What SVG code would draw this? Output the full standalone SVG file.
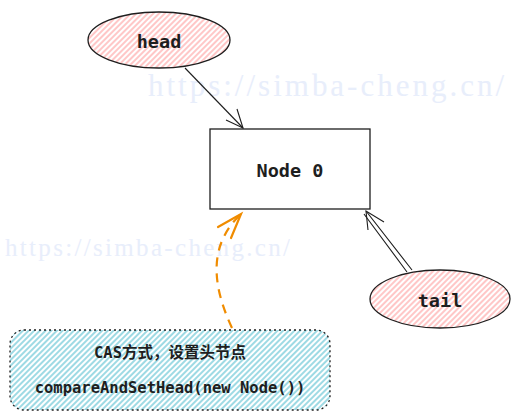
<svg xmlns="http://www.w3.org/2000/svg" width="520" height="420" viewBox="0 0 520 420">
<style>
.lbl{font-family:"DejaVu Sans Mono","Liberation Mono",monospace;font-size:18.5px;font-weight:bold;fill:#1e1e1e;text-anchor:middle;dominant-baseline:central}
.small{font-family:"DejaVu Sans Mono","Noto Sans CJK SC",monospace;font-size:15.5px;font-weight:bold;fill:#1e1e1e;text-anchor:middle;dominant-baseline:central}
.edge{fill:none;stroke:#1e1e1e;stroke-width:1.1}
.wm{font-family:"Liberation Serif",serif;fill:#e3eafb;opacity:0.8}
</style>
<defs>
<pattern id="pink" width="4" height="4" patternUnits="userSpaceOnUse" patternTransform="rotate(-45)">
<rect width="4" height="4" fill="#fff"/><line x1="0" y1="2" x2="4" y2="2" stroke="#ff9a9a" stroke-width="1.1"/>
</pattern>
<pattern id="cyan" width="4" height="4" patternUnits="userSpaceOnUse" patternTransform="rotate(-45)">
<rect width="4" height="4" fill="#fff"/><line x1="0" y1="2" x2="4" y2="2" stroke="#4fbccf" stroke-width="1.1"/>
</pattern>
</defs>
<rect width="520" height="420" fill="#fff"/>
<text class="wm" x="148" y="96" font-size="31" textLength="356">https://simba-cheng.cn/</text>
<text class="wm" x="5" y="256" font-size="25" textLength="285">https://simba-cheng.cn/</text>

<g id="connectors">
<path class="edge" d="M185 68 L243 128"/>
<path class="edge" d="M226 120 L243 128 L237 109"/>
<path class="edge" d="M412 270 L366 211 M407 272 L364 214"/>
<path class="edge" d="M368 230 L366 211 L384 222"/>
<path d="M232 328 C212 285 208 245 241 214" fill="none" stroke="#f08c00" stroke-width="2.2" stroke-dasharray="9 7"/>
<path d="M218 227 L241 214 L231 238" fill="none" stroke="#f08c00" stroke-width="2.2" stroke-linecap="round"/>
</g>

<g id="head">
<ellipse cx="159" cy="40" rx="71" ry="28" fill="url(#pink)" stroke="#1e1e1e" stroke-width="1.3"/>
<text class="lbl" x="159" y="41">head</text>
</g>

<g id="node0">
<rect x="210" y="129" width="160" height="80" fill="#fff" stroke="#1e1e1e" stroke-width="1.3"/>
<text class="lbl" x="290" y="170">Node 0</text>
</g>

<g id="tail">
<ellipse cx="440" cy="299" rx="70" ry="29" fill="url(#pink)" stroke="#1e1e1e" stroke-width="1.3"/>
<text class="lbl" x="440" y="300">tail</text>
</g>

<g id="cas">
<rect x="10" y="330" width="320" height="80" rx="14" fill="url(#cyan)" stroke="#1e1e1e" stroke-width="1.3" stroke-dasharray="2 3"/>
<text class="small" x="170" y="353">CAS方式，设置头节点</text>
<text class="small" x="170" y="388">compareAndSetHead(new Node())</text>
</g>
</svg>
